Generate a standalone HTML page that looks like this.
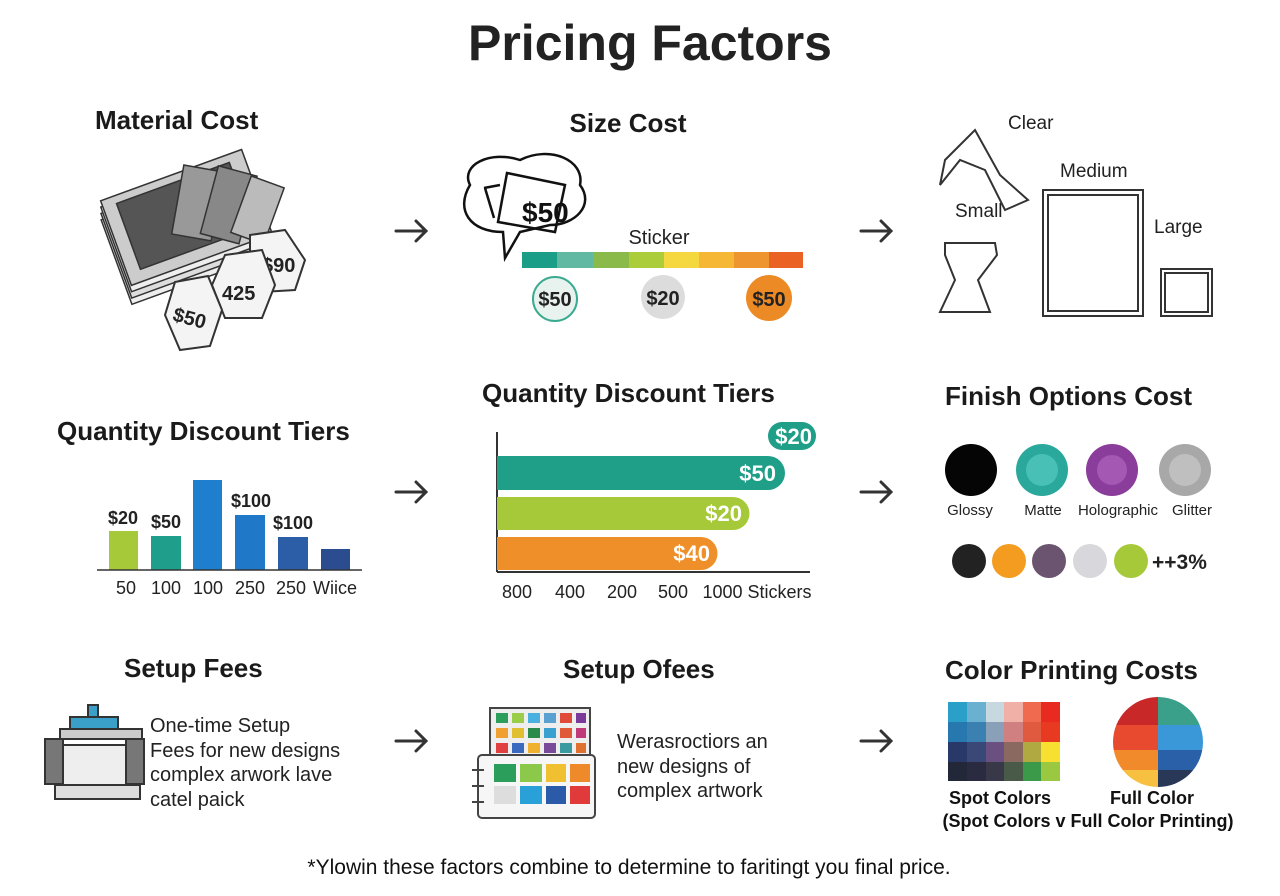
<!DOCTYPE html>
<html><head><meta charset="utf-8"><style>
html,body{margin:0;padding:0;background:#fff;}
svg{display:block;font-family:"Liberation Sans",sans-serif;}
</style></head><body>
<svg width="1280" height="896" viewBox="0 0 1280 896" xmlns="http://www.w3.org/2000/svg">
<rect width="1280" height="896" fill="#fff"/>
<text x="650" y="60" font-size="50" font-weight="bold" text-anchor="middle" fill="#222">Pricing Factors</text>

<g font-size="26" fill="#1a1a1a" font-weight="bold">
<text x="95" y="129">Material Cost</text>
<text x="628" y="132" text-anchor="middle">Size Cost</text>
<text x="57" y="440">Quantity Discount Tiers</text>
<text x="482" y="402">Quantity Discount Tiers</text>
<text x="945" y="405">Finish Options Cost</text>
<text x="124" y="677">Setup Fees</text>
<text x="563" y="678">Setup Ofees</text>
<text x="945" y="679">Color Printing Costs</text>
</g>

<g stroke="#333" stroke-width="3" fill="none" stroke-linecap="round">
<path d="M396 231 H426 M416 221 L426 231 L416 241"/>
<path d="M861 231 H891 M881 221 L891 231 L881 241"/>
<path d="M396 492 H426 M416 482 L426 492 L416 502"/>
<path d="M861 492 H891 M881 482 L891 492 L881 502"/>
<path d="M396 741 H426 M416 731 L426 741 L416 751"/>
<path d="M861 741 H891 M881 731 L891 741 L881 751"/>
</g>

<g stroke="#333" stroke-width="1.5">
<g transform="rotate(-20 190 230)">
<rect x="110" y="190" width="150" height="90" fill="#eee"/>
<rect x="112" y="184" width="150" height="90" fill="#ddd"/>
<rect x="114" y="178" width="150" height="90" fill="#eee"/>
<rect x="116" y="172" width="150" height="90" fill="#ccc"/>
<rect x="130" y="180" width="120" height="70" fill="#555"/>
</g>
<rect x="178" y="168" width="40" height="70" fill="#999" transform="rotate(10 198 200)"/>
<rect x="210" y="170" width="40" height="70" fill="#888" transform="rotate(15 230 200)"/>
<rect x="240" y="180" width="35" height="60" fill="#bbb" transform="rotate(20 257 210)"/>
</g>
<g fill="#f4f4f4" stroke="#333" stroke-width="2" font-size="20" font-weight="bold">
<path d="M250 235 L285 230 L305 260 L295 290 L262 292 L250 262Z"/>
<text x="262" y="272" fill="#222" stroke="none">$90</text>
<path d="M225 255 L262 250 L275 285 L262 318 L225 318 L212 285Z"/>
<text x="222" y="300" fill="#222" stroke="none">425</text>
<path d="M175 282 L208 276 L222 310 L210 346 L180 350 L165 315Z"/>
<text x="173" y="325" fill="#222" stroke="none" transform="rotate(15 190 318)">$50</text>
</g>

<path d="M470 185 C460 165 490 150 520 160 C550 145 585 160 580 185 C595 205 575 225 550 225 L520 232 L505 258 L503 232 C470 232 455 210 470 185Z" fill="none" stroke="#111" stroke-width="2.5"/>
<path d="M507 173 L565 185 L555 232 L498 222Z M485 188 L494 218 M484 188 L500 185" fill="none" stroke="#111" stroke-width="2.5"/>
<text x="522" y="222" font-size="28" font-weight="bold" fill="#111">$50</text>
<text x="659" y="244" font-size="20" text-anchor="middle" fill="#222">Sticker</text>
<g>
<rect x="522" y="252" width="35" height="16" fill="#1a9e88"/>
<rect x="557" y="252" width="36" height="16" fill="#62b9a3"/>
<rect x="593" y="252" width="36" height="16" fill="#8abb4a"/>
<rect x="629" y="252" width="35" height="16" fill="#abcd3a"/>
<rect x="664" y="252" width="35" height="16" fill="#f5d840"/>
<rect x="699" y="252" width="35" height="16" fill="#f6b735"/>
<rect x="734" y="252" width="35" height="16" fill="#ef9530"/>
<rect x="769" y="252" width="34" height="16" fill="#ea6325"/>
</g>
<circle cx="555" cy="299" r="22" fill="#e8f3ef" stroke="#3aaa90" stroke-width="2"/>
<circle cx="663" cy="297" r="22" fill="#dcdcdc"/>
<circle cx="769" cy="298" r="23" fill="#ec8a26"/>
<g font-size="20" font-weight="bold" text-anchor="middle" fill="#222">
<text x="555" y="306">$50</text><text x="663" y="305">$20</text><text x="769" y="306">$50</text>
</g>

<g fill="none" stroke="#333" stroke-width="2">
<path d="M945 160 L975 130 L1000 175 L1028 200 L1005 210 L985 170 L960 160 L940 185Z"/>
<rect x="1043" y="190" width="100" height="126"/><rect x="1048" y="195" width="90" height="116"/>
<rect x="1161" y="269" width="51" height="47"/><rect x="1165" y="273" width="43" height="39"/>
<path d="M945 243 L995 243 L997 255 L978 280 L990 312 L940 312 L955 280 L945 255Z"/>
</g>
<g font-size="19" fill="#222">
<text x="1008" y="129">Clear</text><text x="1060" y="177">Medium</text>
<text x="955" y="217">Small</text><text x="1154" y="233">Large</text>
</g>

<rect x="109" y="531" width="29" height="39" fill="#a6c93a"/>
<rect x="151" y="536" width="30" height="34" fill="#1f9e8c"/>
<rect x="193" y="480" width="29" height="90" fill="#1f7fce"/>
<rect x="235" y="515" width="30" height="55" fill="#1f78c8"/>
<rect x="278" y="537" width="30" height="33" fill="#2b5ea6"/>
<rect x="321" y="549" width="29" height="21" fill="#2b4c8e"/>
<line x1="97" y1="570" x2="362" y2="570" stroke="#333" stroke-width="1.5"/>
<g font-size="18" font-weight="bold" fill="#222" text-anchor="middle">
<text x="123" y="524">$20</text><text x="166" y="528">$50</text><text x="251" y="507">$100</text><text x="293" y="529">$100</text>
</g>
<g font-size="18" fill="#222" text-anchor="middle">
<text x="126" y="594">50</text><text x="166" y="594">100</text><text x="208" y="594">100</text><text x="250" y="594">250</text><text x="291" y="594">250</text><text x="335" y="594">Wiice</text>
</g>

<line x1="497" y1="432" x2="497" y2="572" stroke="#333" stroke-width="2"/>
<line x1="497" y1="572" x2="810" y2="572" stroke="#333" stroke-width="2"/>
<rect x="768" y="422" width="48" height="28" rx="14" fill="#1f9e88"/>
<path d="M497 456 H768 a17 17 0 0 1 0 34 H497Z" fill="#1f9e88"/>
<path d="M497 497 H733 a16.5 16.5 0 0 1 0 33 H497Z" fill="#a6c93a"/>
<path d="M497 537 H701 a16.5 16.5 0 0 1 0 33 H497Z" fill="#ef8f2a"/>
<g font-size="22" font-weight="bold" fill="#fff" text-anchor="end">
<text x="812" y="444">$20</text><text x="776" y="481">$50</text><text x="742" y="521">$20</text><text x="710" y="561">$40</text>
</g>
<g font-size="18" fill="#222" text-anchor="middle">
<text x="517" y="598">800</text><text x="570" y="598">400</text><text x="622" y="598">200</text><text x="673" y="598">500</text><text x="757" y="598">1000 Stickers</text>
</g>

<circle cx="971" cy="470" r="26" fill="#050505"/>
<circle cx="1042" cy="470" r="26" fill="#2aa89c"/>
<circle cx="1042" cy="470" r="16" fill="#5fd0c8" opacity="0.6"/>
<circle cx="1112" cy="470" r="26" fill="#8a3d9a"/>
<circle cx="1112" cy="470" r="15" fill="#b66ac4" opacity="0.6"/>
<circle cx="1185" cy="470" r="26" fill="#a8a8a8"/>
<circle cx="1185" cy="470" r="16" fill="#cfcfcf" opacity="0.6"/>
<g font-size="15" fill="#222" text-anchor="middle">
<text x="970" y="515">Glossy</text><text x="1043" y="515">Matte</text><text x="1118" y="515">Holographic</text><text x="1192" y="515">Glitter</text>
</g>
<circle cx="969" cy="561" r="17" fill="#222"/>
<circle cx="1009" cy="561" r="17" fill="#f39c1f"/>
<circle cx="1049" cy="561" r="17" fill="#6a5470"/>
<circle cx="1090" cy="561" r="17" fill="#d8d8dc"/>
<circle cx="1131" cy="561" r="17" fill="#a6c93a"/>
<text x="1152" y="569" font-size="21" font-weight="bold" fill="#222">++3%</text>

<g stroke="#333" stroke-width="2">
<rect x="88" y="705" width="10" height="12" fill="#3aa0c8"/>
<rect x="70" y="717" width="48" height="12" fill="#3aa0c8"/>
<rect x="60" y="729" width="82" height="10" fill="#ccc"/>
<rect x="45" y="739" width="18" height="45" fill="#777"/>
<rect x="126" y="739" width="18" height="45" fill="#777"/>
<rect x="63" y="745" width="63" height="40" fill="#eee"/>
<rect x="55" y="785" width="85" height="14" fill="#ddd"/>
</g>
<g font-size="20" fill="#222">
<text x="150" y="732">One-time Setup</text><text x="150" y="757">Fees for new designs</text>
<text x="150" y="781">complex arwork lave</text><text x="150" y="806">catel paick</text>
</g>

<rect x="490" y="708" width="100" height="55" fill="#eee" stroke="#444" stroke-width="2"/>
<g>
<rect x="496" y="713" width="12" height="10" fill="#2a9e5a"/><rect x="512" y="713" width="12" height="10" fill="#9acd4a"/><rect x="528" y="713" width="12" height="10" fill="#4ab0e0"/><rect x="544" y="713" width="12" height="10" fill="#5aa0d0"/><rect x="560" y="713" width="12" height="10" fill="#e04a3a"/><rect x="576" y="713" width="10" height="10" fill="#7a3a9a"/>
<rect x="496" y="728" width="12" height="10" fill="#f0a030"/><rect x="512" y="728" width="12" height="10" fill="#e0c030"/><rect x="528" y="728" width="12" height="10" fill="#2a8a4a"/><rect x="544" y="728" width="12" height="10" fill="#3aa0d0"/><rect x="560" y="728" width="12" height="10" fill="#e05a3a"/><rect x="576" y="728" width="10" height="10" fill="#c03a7a"/>
<rect x="496" y="743" width="12" height="10" fill="#e04040"/><rect x="512" y="743" width="12" height="10" fill="#3a6ac0"/><rect x="528" y="743" width="12" height="10" fill="#f0b030"/><rect x="544" y="743" width="12" height="10" fill="#7a4a9a"/><rect x="560" y="743" width="12" height="10" fill="#3a9aa0"/><rect x="576" y="743" width="10" height="10" fill="#e07030"/>
</g>
<rect x="478" y="755" width="117" height="63" rx="4" fill="#f6f6f6" stroke="#444" stroke-width="2"/>
<g stroke="#444" stroke-width="2"><line x1="472" y1="770" x2="484" y2="770"/><line x1="472" y1="786" x2="484" y2="786"/><line x1="472" y1="802" x2="484" y2="802"/></g>
<rect x="494" y="764" width="22" height="18" fill="#2a9e5a"/><rect x="520" y="764" width="22" height="18" fill="#8cc84a"/><rect x="546" y="764" width="20" height="18" fill="#f0c030"/><rect x="570" y="764" width="20" height="18" fill="#ef8a2a"/>
<rect x="494" y="786" width="22" height="18" fill="#ddd"/><rect x="520" y="786" width="22" height="18" fill="#2aa0d8"/><rect x="546" y="786" width="20" height="18" fill="#2a5aa8"/><rect x="570" y="786" width="20" height="18" fill="#e03a3a"/>
<g font-size="20" fill="#222">
<text x="617" y="748">Werasroctiors an</text><text x="617" y="773">new designs of</text><text x="617" y="797">complex artwork</text>
</g>

<g>
<rect x="948" y="702" width="19" height="20" fill="#2aa0c8"/><rect x="967" y="702" width="19" height="20" fill="#6ab0d0"/><rect x="986" y="702" width="18" height="20" fill="#c8d8e0"/><rect x="1004" y="702" width="19" height="20" fill="#f0b0a8"/><rect x="1023" y="702" width="18" height="20" fill="#f06a50"/><rect x="1041" y="702" width="19" height="20" fill="#e82a20"/>
<rect x="948" y="722" width="19" height="20" fill="#2878b0"/><rect x="967" y="722" width="19" height="20" fill="#3a80b0"/><rect x="986" y="722" width="18" height="20" fill="#8aa0b8"/><rect x="1004" y="722" width="19" height="20" fill="#d08080"/><rect x="1023" y="722" width="18" height="20" fill="#e05a40"/><rect x="1041" y="722" width="19" height="20" fill="#e83a20"/>
<rect x="948" y="742" width="19" height="20" fill="#283868"/><rect x="967" y="742" width="19" height="20" fill="#3a4878"/><rect x="986" y="742" width="18" height="20" fill="#6a5080"/><rect x="1004" y="742" width="19" height="20" fill="#8a6a60"/><rect x="1023" y="742" width="18" height="20" fill="#b0a840"/><rect x="1041" y="742" width="19" height="20" fill="#f8e030"/>
<rect x="948" y="762" width="19" height="19" fill="#222838"/><rect x="967" y="762" width="19" height="19" fill="#2a2a40"/><rect x="986" y="762" width="18" height="19" fill="#383848"/><rect x="1004" y="762" width="19" height="19" fill="#4a5a48"/><rect x="1023" y="762" width="18" height="19" fill="#3a9a4a"/><rect x="1041" y="762" width="19" height="19" fill="#9ac840"/>
</g>
<clipPath id="cc"><circle cx="1158" cy="742" r="45"/></clipPath>
<g clip-path="url(#cc)">
<rect x="1110" y="695" width="50" height="30" fill="#c82828"/><rect x="1158" y="695" width="50" height="30" fill="#3aa08a"/>
<rect x="1110" y="725" width="50" height="25" fill="#e84a30"/><rect x="1158" y="725" width="50" height="25" fill="#3a98d8"/>
<rect x="1110" y="750" width="50" height="20" fill="#f08a2a"/><rect x="1158" y="750" width="50" height="20" fill="#2a60a8"/>
<rect x="1110" y="770" width="50" height="20" fill="#f8c040"/><rect x="1158" y="770" width="50" height="20" fill="#2a3858"/>
</g>
<g font-size="18" fill="#111" font-weight="bold" text-anchor="middle">
<text x="1000" y="804">Spot Colors</text><text x="1152" y="804">Full Color</text>
<text x="1088" y="827">(Spot Colors v Full Color Printing)</text>
</g>

<text x="629" y="874" font-size="21" text-anchor="middle" fill="#111">*Ylowin these factors combine to determine to faritingt you final price.</text>
</svg>
</body></html>
